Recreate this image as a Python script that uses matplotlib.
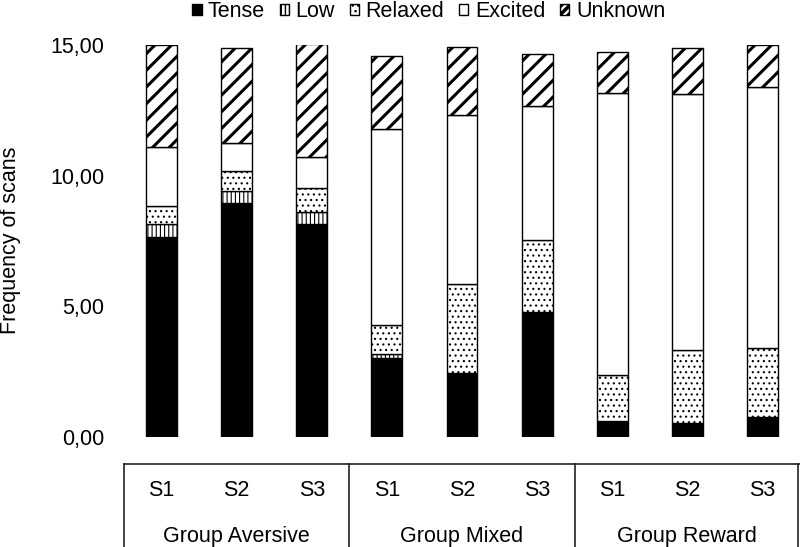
import numpy as np
import matplotlib
matplotlib.use('Agg')
import matplotlib.pyplot as plt
from matplotlib.ticker import FuncFormatter
from matplotlib.patches import Patch

plt.rcParams['font.family'] = ['Liberation Sans', 'DejaVu Sans']

# dati
sessions = ['S1', 'S2', 'S3'] * 3
groups = ['Group Aversive', 'Group Mixed', 'Group Reward']
tense = [7.64, 8.94, 8.15, 3.02, 2.44, 4.80, 0.63, 0.52, 0.75]
low = [0.51, 0.47, 0.47, 0.16, 0.00, 0.00, 0.00, 0.00, 0.00]
relaxed = [0.70, 0.78, 0.91, 1.09, 3.42, 2.74, 1.74, 2.81, 2.64]
excited = [2.26, 1.05, 1.20, 7.52, 6.46, 5.13, 10.78, 9.80, 9.99]
unknown = [3.89, 3.63, 4.31, 2.79, 2.59, 1.99, 1.58, 1.74, 1.62]

series = [
    ('Tense', tense, 'black', ''),
    ('Low', low, 'white', '||||'),
    ('Relaxed', relaxed, 'white', '...'),
    ('Excited', excited, 'white', ''),
    ('Unknown', unknown, 'white', '//'),
]

FS = 15.5

fig = plt.figure(figsize=(8, 5.47), dpi=100)
ax = fig.add_axes([124 / 800, 110 / 547, 676 / 800, 392 / 547])

x = np.arange(len(sessions))
width = 0.41
bottom = np.zeros(len(sessions))
handles = []
for name, vals, color, hatch in series:
    vals = np.array(vals)
    bars = ax.bar(x, vals, width, bottom=bottom, color=color, edgecolor='black',
                  linewidth=1, hatch=hatch if hatch else None)
    if name == 'Unknown':
        for b in bars:
            b.set_hatch_linewidth(2.2)
        # nel box della legenda serve un tratteggio più fitto
        h = Patch(facecolor=color, edgecolor='black', hatch='////', linewidth=1)
        h.set_hatch_linewidth(2.5)
    else:
        if hatch:
            for b in bars:
                b.set_hatch_linewidth(0.8)
        h = Patch(facecolor=color, edgecolor='black', hatch=hatch if hatch else None,
                  linewidth=1)
    bottom += vals
    handles.append(h)

ax.set_xlim(-0.5, 8.5)
ax.set_ylim(0, 15)
ax.set_yticks([0, 5, 10, 15])
ax.yaxis.set_major_formatter(FuncFormatter(lambda v, p: f'{v:.2f}'.replace('.', ',')))
ax.tick_params(axis='y', length=0, pad=14, labelsize=FS)
ax.set_xticks([])
for s in ax.spines.values():
    s.set_visible(False)

fig.text(11 / 800, 1 - 240 / 547, 'Frequency of scans', rotation=90,
         ha='center', va='center', fontsize=FS)

# asse categorie a due livelli
tr = ax.get_xaxis_transform()
y_line = -0.069
y_bot = -0.285
ax.plot([-0.5, 8.5], [y_line, y_line], color='#222222', lw=1.2, transform=tr, clip_on=False)
for xv in [-0.5, 2.5, 5.5, 8.47]:
    ax.plot([xv, xv], [y_line, y_bot], color='#222222', lw=1.2, transform=tr, clip_on=False)
for xi, s in zip(x, sessions):
    ax.text(xi, -0.137, s, ha='center', va='center', fontsize=FS, transform=tr)
for gi, g in enumerate(groups):
    ax.text(gi * 3 + 1, -0.253, g, ha='center', va='center', fontsize=FS, transform=tr)

leg = fig.legend(handles, [s[0] for s in series], loc='upper center', ncol=5,
                 bbox_to_anchor=(0.536, 1.018), frameon=False, fontsize=FS,
                 handlelength=0.42, handleheight=0.42, handletextpad=0.3,
                 columnspacing=0.7, borderpad=0)
for lh in leg.legend_handles:
    if lh.get_hatch() == '////':
        lh.set_hatch_linewidth(2.5)

fig.savefig('out.png', dpi=100)
